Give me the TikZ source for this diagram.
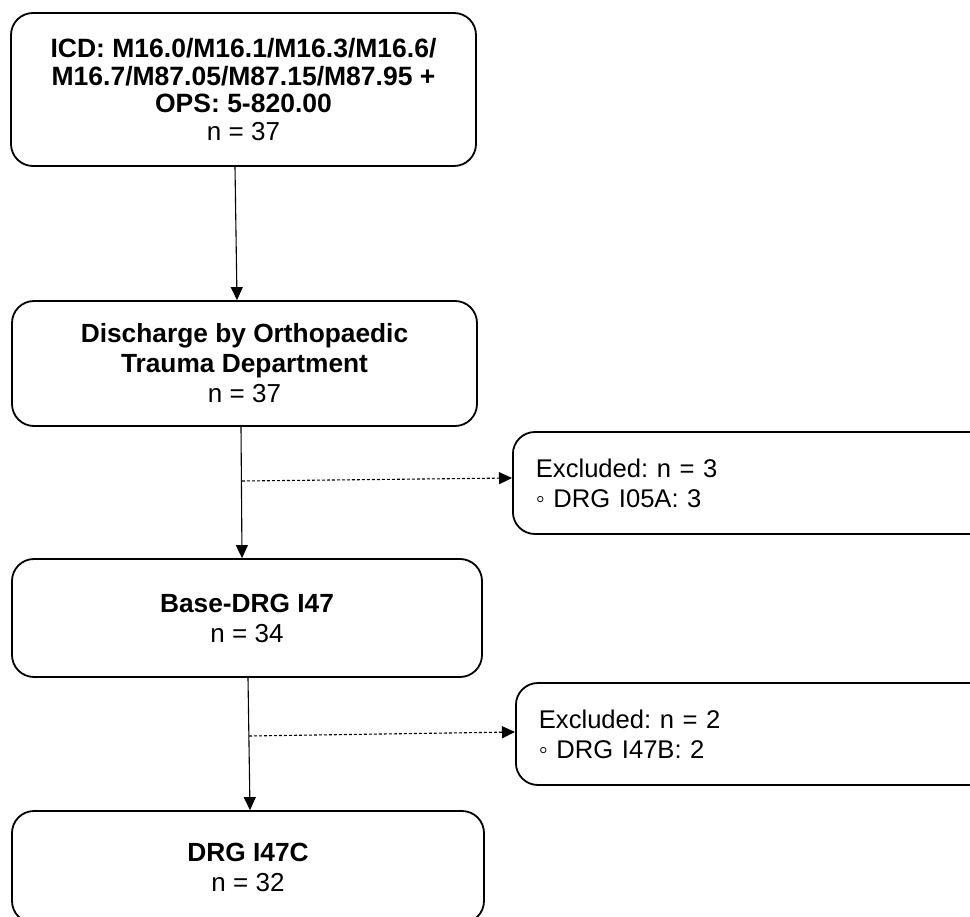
\documentclass[tikz,border=0pt]{standalone}
\usepackage{fontspec}
\setmainfont{Liberation Sans}
\usetikzlibrary{arrows.meta}
\frenchspacing
\begin{document}
\begin{tikzpicture}[x=1pt,y=-1pt,
  bf/.style={font=\fontsize{26.3}{30}\selectfont\bfseries},
  box/.style={draw,line width=1.8pt,rounded corners=22pt,align=center,inner sep=0pt,
    font=\fontsize{26}{30}\selectfont},
  exbox/.style={draw,line width=1.8pt,rounded corners=22pt,align=left,inner xsep=23pt,inner ysep=0pt,
    anchor=west,minimum width=500pt,text width=454pt,minimum height=102pt,
    font=\fontsize{25.6}{30}\selectfont},
  arr/.style={line width=1.1pt,-{Triangle[length=13pt,width=12pt]}},
  darr/.style={line width=1.1pt,dash pattern=on 3pt off 2pt,-{Triangle[length=13pt,width=12pt]}}]
\path[use as bounding box] (0,0) rectangle (970,917);
\clip (0,0) rectangle (970,917);
\node[box,minimum width=465pt,minimum height=153pt,font=\fontsize{26}{27.8}\selectfont] (b1) at (243.5,89.5)
  {{\fontsize{26.5}{27.8}\selectfont\bfseries ICD: M16.0/M16.1/M16.3/M16.6/}\\{\fontsize{26.5}{27.8}\selectfont\bfseries M16.7/M87.05/M87.15/M87.95 +}\\{\fontsize{26.5}{27.8}\selectfont\bfseries OPS: 5-820.00}\\n = 37};
\node[box,minimum width=465pt,minimum height=125pt] (b2) at (244.5,363.5)
  {{\fontsize{26.3}{30}\selectfont\bfseries Discharge by Orthopaedic}\\{\fontsize{26.3}{30}\selectfont\bfseries Trauma Department}\\n = 37};
\node[box,minimum width=470pt,minimum height=118pt] (b3) at (247,618)
  {{\fontsize{26.3}{30}\selectfont\bfseries Base-DRG I47}\\n = 34};
\node[box,minimum width=472pt,minimum height=112pt] (b4) at (248,867)
  {{\fontsize{26.3}{30}\selectfont\bfseries DRG I47C}\\n = 32};
\node[exbox] (e1) at (512,483) {Excluded: n = 3\\◦ DRG I05A: 3};
\node[exbox] (e2) at (515,734) {Excluded: n = 2\\◦ DRG I47B: 2};
\draw[arr] ([xshift=-8.5pt]b1.south) -- ([xshift=-7.5pt]b2.north);
\draw[arr] ([xshift=-3.5pt]b2.south) -- ([xshift=-5pt]b3.north);
\draw[arr] ([xshift=1pt]b3.south) -- ([xshift=2pt]b4.north);
\coordinate (d1) at (242,481);
\coordinate (d2) at (249,736);
\draw[darr] (d1) -- ([yshift=5pt]e1.west);
\draw[darr] (d2) -- ([yshift=2pt]e2.west);
\end{tikzpicture}
\end{document}
